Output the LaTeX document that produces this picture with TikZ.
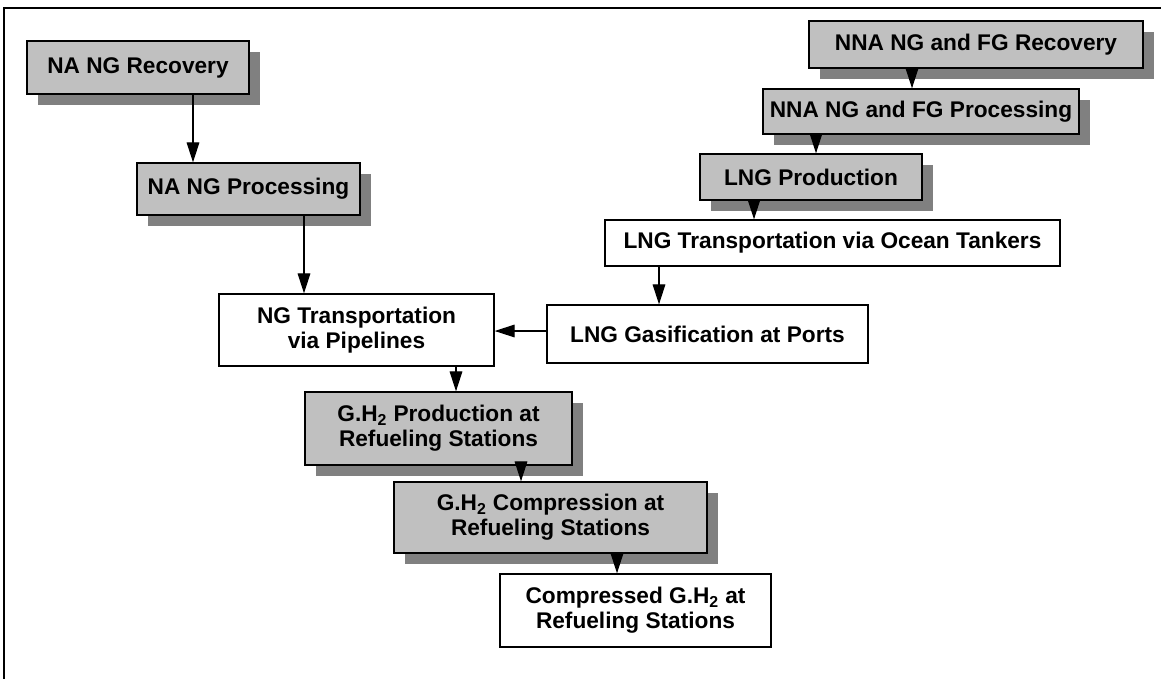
\documentclass[tikz,border=0pt]{standalone}
\usepackage{fontspec}
\setmainfont{Liberation Sans}
\usetikzlibrary{shadows,arrows.meta}
\definecolor{boxgray}{HTML}{C0C0C0}
\definecolor{shadowgray}{HTML}{808080}
\def\pxu{0.75pt}
\tikzset{
  basebox/.style={draw=black, line width=1pt, rectangle, inner sep=0pt, align=center,
    font=\fontsize{17pt}{19pt}\selectfont\bfseries},
  gbox/.style={basebox, fill=boxgray,
    drop shadow={shadow xshift=8.25pt, shadow yshift=-8.5pt, fill=shadowgray, opacity=1}},
  wbox/.style={basebox, fill=white},
  arr/.style={line width=0.8pt, -{Triangle[length=15pt,width=9.5pt]}},
  frameline/.style={line width=1.3pt}
}
\begin{document}
\begin{tikzpicture}[x=0.75pt,y=-0.75pt]
\useasboundingbox (0,0) rectangle (1161,679);
\coordinate (ftl) at (4,8);
\coordinate (ftr) at (1161,8);
\coordinate (fbl) at (4,679);
\draw[frameline] (ftr) -- (ftl) -- (fbl);

\node[gbox, minimum width=222*\pxu, minimum height=53*\pxu] (rec1) at (138,67.5) {NA NG Recovery};
\node[gbox, minimum width=223*\pxu, minimum height=52*\pxu] (proc1) at (248.5,189) {NA NG Processing};
\node[wbox, minimum width=275*\pxu, minimum height=72*\pxu] (ngt) at (356.5,330) {NG Transportation\\via Pipelines};
\node[wbox, minimum width=321*\pxu, minimum height=58*\pxu] (gasif) at (707.5,334) {LNG Gasification at Ports};
\node[wbox, minimum width=455*\pxu, minimum height=46*\pxu] (lngt) at (832.5,243) {LNG Transportation via Ocean Tankers};
\node[gbox, minimum width=222*\pxu, minimum height=46*\pxu] (lngp) at (811,177) {LNG Production};
\node[gbox, minimum width=316*\pxu, minimum height=45*\pxu] (nnap) at (921,111.5) {NNA NG and FG Processing};
\node[gbox, minimum width=334*\pxu, minimum height=47*\pxu] (nnar) at (976,44.5) {NNA NG and FG Recovery};
\node[gbox, minimum width=267*\pxu, minimum height=73*\pxu] (ghp) at (438.5,428.5) {G.H\textsubscript{2} Production at\\Refueling Stations};
\node[gbox, minimum width=313*\pxu, minimum height=71*\pxu] (ghc) at (550.5,517.5) {G.H\textsubscript{2} Compression at\\Refueling Stations};
\node[wbox, minimum width=271*\pxu, minimum height=73*\pxu] (cgh) at (635.5,610.5) {Compressed G.H\textsubscript{2} at\\Refueling Stations};

\draw[arr] (rec1.south -| 193,0) -- (proc1.north -| 193,0);
\draw[arr] (proc1.south -| 304,0) -- (ngt.north -| 304,0);
\draw[arr] (nnar.south -| 912,0) -- (nnap.north -| 912,0);
\draw[arr] (nnap.south -| 816,0) -- (lngp.north -| 816,0);
\draw[arr] (lngp.south -| 754,0) -- (lngt.north -| 754,0);
\draw[arr] (lngt.south -| 659,0) -- (gasif.north -| 659,0);
\draw[arr] (gasif.west |- 0,331) -- (ngt.east |- 0,331);
\draw[arr] (ngt.south -| 456,0) -- (ghp.north -| 456,0);
\draw[arr] (ghp.south -| 521,0) -- (ghc.north -| 521,0);
\draw[arr] (ghc.south -| 617,0) -- (cgh.north -| 617,0);
\end{tikzpicture}
\end{document}
